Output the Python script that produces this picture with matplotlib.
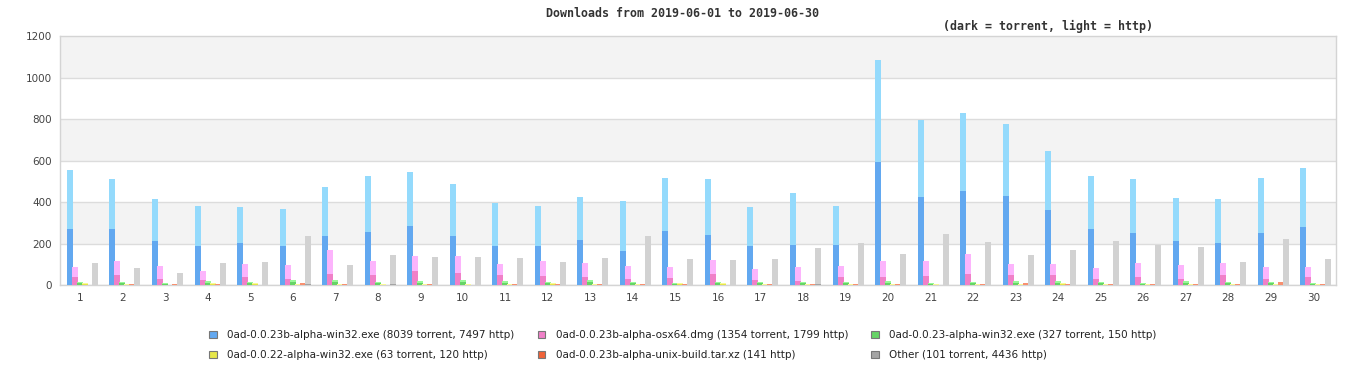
import matplotlib.pyplot as plt
from matplotlib.patches import Patch

days = list(range(1, 31))

names = ['0ad-0.0.23b-alpha-win32.exe (8039 torrent, 7497 http)',
         '0ad-0.0.23b-alpha-osx64.dmg (1354 torrent, 1799 http)',
         '0ad-0.0.23-alpha-win32.exe (327 torrent, 150 http)',
         '0ad-0.0.22-alpha-win32.exe (63 torrent, 120 http)',
         '0ad-0.0.23b-alpha-unix-build.tar.xz (141 http)',
         'Other (101 torrent, 4436 http)']

# torrent (dark) and http (light) per day
win_t = [270, 270, 212, 188, 202, 188, 236, 255, 284, 236, 188, 188, 217, 164, 260,
         241, 188, 193, 193, 593, 424, 453, 429, 361, 270, 251, 212, 202, 251, 280]
win_h = [284, 241, 202, 193, 174, 178, 236, 270, 261, 251, 207, 193, 207, 241, 256,
         270, 188, 250, 188, 491, 371, 376, 347, 285, 255, 260, 207, 212, 265, 284]
osx_t = [39, 48, 29, 24, 39, 29, 53, 48, 67, 58, 48, 43, 39, 29, 34,
         53, 24, 19, 39, 39, 43, 53, 48, 48, 29, 39, 29, 48, 29, 39]
osx_h = [48, 68, 63, 43, 62, 67, 116, 68, 73, 82, 53, 73, 67, 63, 53,
         67, 53, 68, 53, 77, 73, 96, 53, 53, 53, 67, 67, 58, 58, 48]
w23_t = [10, 10, 7, 12, 10, 16, 16, 10, 12, 16, 12, 10, 16, 10, 7,
         10, 10, 10, 10, 12, 7, 10, 12, 12, 10, 7, 12, 10, 10, 7]
w23_h = [4, 4, 3, 7, 4, 8, 8, 4, 7, 8, 7, 4, 8, 4, 3,
         4, 4, 4, 4, 7, 3, 4, 7, 7, 4, 3, 7, 4, 4, 3]
w22_t = [3, 2, 0, 3, 3, 2, 2, 2, 2, 2, 2, 3, 2, 2, 3,
         3, 2, 2, 2, 2, 2, 2, 2, 3, 2, 2, 2, 2, 2, 2]
w22_h = [7, 3, 0, 7, 7, 3, 3, 3, 3, 3, 3, 7, 3, 3, 7,
         7, 3, 3, 3, 3, 3, 3, 3, 7, 3, 3, 3, 3, 3, 3]
unix_t = [0] * 30
unix_h = [0, 5, 5, 5, 0, 10, 5, 0, 5, 0, 5, 5, 5, 5, 5,
          0, 5, 5, 5, 5, 0, 5, 10, 5, 5, 5, 5, 5, 14, 5]
oth_t = [2, 2, 2, 2, 2, 5, 2, 5, 2, 2, 2, 2, 2, 2, 2,
         2, 2, 5, 2, 2, 2, 2, 2, 2, 2, 2, 2, 2, 2, 2]
oth_h = [104, 80, 56, 104, 109, 231, 94, 140, 133, 133, 128, 109, 128, 234, 123,
         118, 123, 173, 200, 147, 244, 205, 143, 167, 210, 191, 181, 109, 220, 123]

torrent = [win_t, osx_t, w23_t, w22_t, unix_t, oth_t]
http = [win_h, osx_h, w23_h, w22_h, unix_h, oth_h]
dark = ['#62a8f0', '#f080c8', '#66d466', '#e6e64a', '#f06238', '#a4a4a4']
light = ['#94dafc', '#fcb4fc', '#98f898', '#f8f898', '#f89070', '#d2d2d2']

fig = plt.figure(figsize=(13.66, 3.8), dpi=100)
ax = fig.add_axes([0.0439, 0.25, 0.9341, 0.655])

# alternating background bands
for lo in range(0, 1200, 200):
    if (lo // 200) % 2 == 1:
        ax.axhspan(lo, lo + 200, color='#f3f3f3', zorder=0, lw=0)
    ax.axhline(lo, color='#dcdcdc', lw=1, zorder=1)

w = 0.141
step = 5 / 42.53
for k in range(6):
    xs = [d - 0.235 + k * step for d in days]
    ax.bar(xs, torrent[k], width=w, color=dark[k], zorder=3, lw=0)
    ax.bar(xs, http[k], width=w, bottom=torrent[k], color=light[k], zorder=3, lw=0)

ax.set_xlim(0.53, 30.53)
ax.set_ylim(0, 1200)
ax.set_yticks(range(0, 1201, 200))
ax.set_xticks(days)
ax.tick_params(length=0, labelsize=7.5, labelcolor='#444444', pad=6)
for s in ax.spines.values():
    s.set_color('#d4d4d4')
    s.set_linewidth(1)

fig.text(0.5, 0.965, 'Downloads from 2019-06-01 to 2019-06-30', ha='center', va='center',
         family='DejaVu Sans Mono', fontweight='bold', fontsize=8.4, color='#333333')
fig.text(0.767, 0.93, '(dark = torrent, light = http)', ha='center', va='center',
         family='DejaVu Sans Mono', fontweight='bold', fontsize=8.4, color='#333333')

handles = [Patch(facecolor=dark[k], edgecolor='#777777', lw=0.8, label=names[k]) for k in range(6)]
order = [0, 3, 1, 4, 2, 5]
leg = fig.legend([handles[i] for i in order], [names[i] for i in order], ncol=3,
                 loc='center', bbox_to_anchor=(0.5, 0.092), frameon=False,
                 fontsize=7.5, handlelength=0.75, handleheight=0.75,
                 columnspacing=2.2, handletextpad=1.0, labelspacing=0.95)
for t in leg.get_texts():
    t.set_color('#222222')

fig.savefig('out.png', dpi=100)
